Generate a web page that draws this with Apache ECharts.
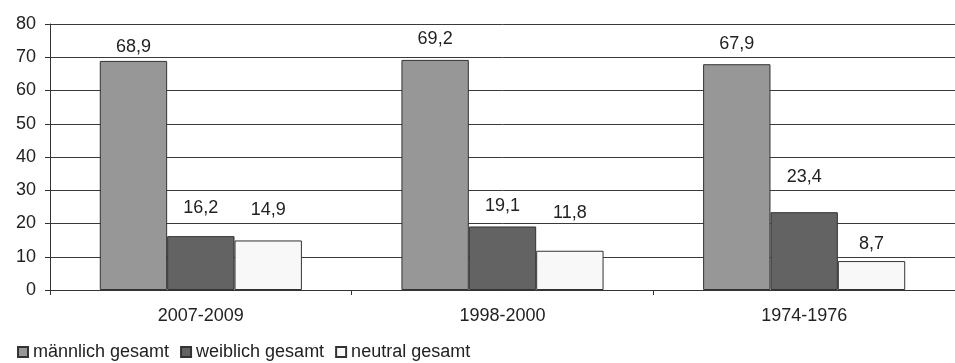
<!DOCTYPE html>
<html><head><meta charset="utf-8">
<script src="https://cdn.jsdelivr.net/npm/echarts@6/dist/echarts.min.js"></script>
<style>html,body{margin:0;padding:0;background:#fff}#c{width:955px;height:363px}</style>
</head><body><div id="c"></div>
<script>
const categories = ['2007-2009', '1998-2000', '1974-1976'];
const seriesNames = ['männlich gesamt', 'weiblich gesamt', 'neutral gesamt'];
const maleValues = [68.9, 69.2, 67.9];
const femaleValues = [16.2, 19.1, 23.4];
const neutralValues = [14.9, 11.8, 8.7];
const yTicks = [0, 10, 20, 30, 40, 50, 60, 70, 80];

// styling (label gaps above each bar, in px)
const labelGaps = [[5, 12, 11], [19, 11, 26], [21, 29, 8]];
const colors = ['#979797', '#636363', '#f8f8f8'];
const font = 'Liberation Sans, Arial, sans-serif';

const allValues = [maleValues, femaleValues, neutralValues];
const chart = echarts.init(document.getElementById('c'));
chart.setOption({
  animation: false,
  grid: { left: 50, right: 0, top: 24, bottom: 73, containLabel: false },
  legend: {
    left: 12, top: 338, icon: 'rect', itemWidth: 10, itemHeight: 10, itemGap: 11,
    textStyle: { fontFamily: font, fontSize: 18, color: '#222' },
    data: seriesNames
  },
  xAxis: {
    type: 'category', data: categories,
    axisLine: { lineStyle: { color: '#333', width: 1 } },
    axisTick: { show: true, length: 5, lineStyle: { color: '#333' } },
    axisLabel: { fontFamily: font, fontSize: 18, color: '#222', margin: 17 }
  },
  yAxis: {
    type: 'value', min: yTicks[0], max: yTicks[yTicks.length - 1], interval: 10,
    axisLine: { show: true, lineStyle: { color: '#333', width: 1 } },
    axisTick: { show: true, length: 5, lineStyle: { color: '#333' } },
    axisLabel: { fontFamily: font, fontSize: 18, color: '#222', margin: 14 },
    splitLine: { lineStyle: { color: '#3a3a3a', width: 1 } }
  },
  series: seriesNames.map((name, i) => ({
    name, type: 'bar', barGap: '0%', barCategoryGap: '33%',
    itemStyle: { color: colors[i], borderColor: '#333', borderWidth: 1 },
    data: allValues[i].map((v, j) => ({
      value: v,
      label: { distance: labelGaps[i][j] }
    })),
    label: {
      show: true, position: 'top', fontFamily: font, fontSize: 18, color: '#222',
      formatter: p => String(p.value).replace('.', ',')
    }
  }))
});
</script></body></html>
